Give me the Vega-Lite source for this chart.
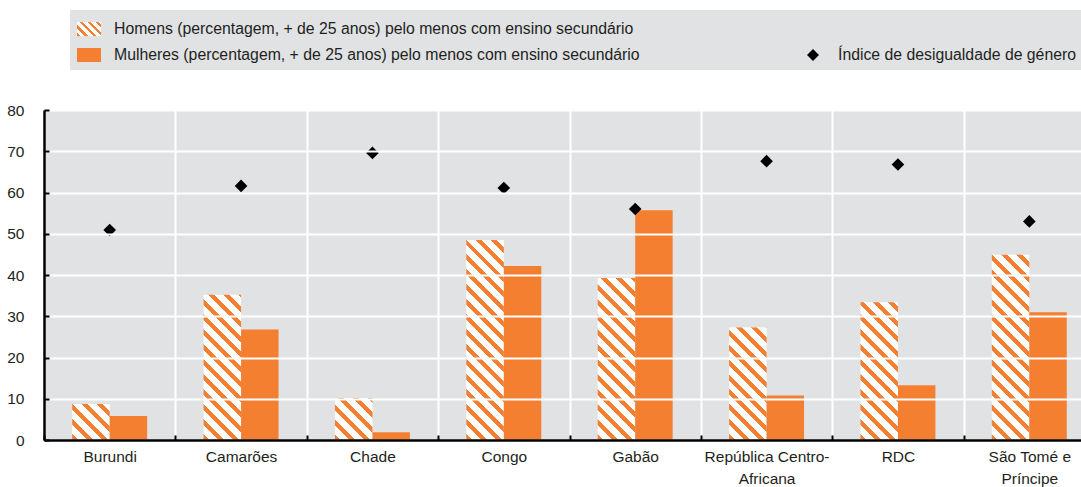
{
  "$schema": "https://vega.github.io/schema/vega-lite/v6.json",
  "width": 1037,
  "height": 330,
  "autosize": {"type": "none"},
  "padding": {"left": 44, "top": 110, "right": 0, "bottom": 47},
  "background": "#ffffff",
  "params": [
    {"name": "hatch", "value": [
      {"offset": 0, "color": "#f47f30"}, {"offset": 0.0235, "color": "#f47f30"}, {"offset": 0.0235, "color": "#ffffff"}, {"offset": 0.0588, "color": "#ffffff"},
      {"offset": 0.0588, "color": "#f47f30"}, {"offset": 0.0824, "color": "#f47f30"}, {"offset": 0.0824, "color": "#ffffff"}, {"offset": 0.1176, "color": "#ffffff"},
      {"offset": 0.1176, "color": "#f47f30"}, {"offset": 0.1412, "color": "#f47f30"}, {"offset": 0.1412, "color": "#ffffff"}, {"offset": 0.1765, "color": "#ffffff"},
      {"offset": 0.1765, "color": "#f47f30"}, {"offset": 0.2, "color": "#f47f30"}, {"offset": 0.2, "color": "#ffffff"}, {"offset": 0.2353, "color": "#ffffff"},
      {"offset": 0.2353, "color": "#f47f30"}, {"offset": 0.2588, "color": "#f47f30"}, {"offset": 0.2588, "color": "#ffffff"}, {"offset": 0.2941, "color": "#ffffff"},
      {"offset": 0.2941, "color": "#f47f30"}, {"offset": 0.3176, "color": "#f47f30"}, {"offset": 0.3176, "color": "#ffffff"}, {"offset": 0.3529, "color": "#ffffff"},
      {"offset": 0.3529, "color": "#f47f30"}, {"offset": 0.3765, "color": "#f47f30"}, {"offset": 0.3765, "color": "#ffffff"}, {"offset": 0.4118, "color": "#ffffff"},
      {"offset": 0.4118, "color": "#f47f30"}, {"offset": 0.4353, "color": "#f47f30"}, {"offset": 0.4353, "color": "#ffffff"}, {"offset": 0.4706, "color": "#ffffff"},
      {"offset": 0.4706, "color": "#f47f30"}, {"offset": 0.4941, "color": "#f47f30"}, {"offset": 0.4941, "color": "#ffffff"}, {"offset": 0.5294, "color": "#ffffff"},
      {"offset": 0.5294, "color": "#f47f30"}, {"offset": 0.5529, "color": "#f47f30"}, {"offset": 0.5529, "color": "#ffffff"}, {"offset": 0.5882, "color": "#ffffff"},
      {"offset": 0.5882, "color": "#f47f30"}, {"offset": 0.6118, "color": "#f47f30"}, {"offset": 0.6118, "color": "#ffffff"}, {"offset": 0.6471, "color": "#ffffff"},
      {"offset": 0.6471, "color": "#f47f30"}, {"offset": 0.6706, "color": "#f47f30"}, {"offset": 0.6706, "color": "#ffffff"}, {"offset": 0.7059, "color": "#ffffff"},
      {"offset": 0.7059, "color": "#f47f30"}, {"offset": 0.7294, "color": "#f47f30"}, {"offset": 0.7294, "color": "#ffffff"}, {"offset": 0.7647, "color": "#ffffff"},
      {"offset": 0.7647, "color": "#f47f30"}, {"offset": 0.7882, "color": "#f47f30"}, {"offset": 0.7882, "color": "#ffffff"}, {"offset": 0.8235, "color": "#ffffff"},
      {"offset": 0.8235, "color": "#f47f30"}, {"offset": 0.8471, "color": "#f47f30"}, {"offset": 0.8471, "color": "#ffffff"}, {"offset": 0.8824, "color": "#ffffff"},
      {"offset": 0.8824, "color": "#f47f30"}, {"offset": 0.9059, "color": "#f47f30"}, {"offset": 0.9059, "color": "#ffffff"}, {"offset": 0.9412, "color": "#ffffff"},
      {"offset": 0.9412, "color": "#f47f30"}, {"offset": 0.9647, "color": "#f47f30"}, {"offset": 0.9647, "color": "#ffffff"}, {"offset": 1, "color": "#ffffff"}
    ]}
  ],
  "data": {"values": [
    {"pais": "Burundi", "serie": "Homens (percentagem, + de 25 anos) pelo menos com ensino secundário", "valor": 8.7},
    {"pais": "Burundi", "serie": "Mulheres (percentagem, + de 25 anos) pelo menos com ensino secundário", "valor": 5.8},
    {"pais": "Burundi", "serie": "Índice de desigualdade de género", "valor": 50.9},
    {"pais": "Camarões", "serie": "Homens (percentagem, + de 25 anos) pelo menos com ensino secundário", "valor": 35.2},
    {"pais": "Camarões", "serie": "Mulheres (percentagem, + de 25 anos) pelo menos com ensino secundário", "valor": 26.8},
    {"pais": "Camarões", "serie": "Índice de desigualdade de género", "valor": 61.6},
    {"pais": "Chade", "serie": "Homens (percentagem, + de 25 anos) pelo menos com ensino secundário", "valor": 10.1},
    {"pais": "Chade", "serie": "Mulheres (percentagem, + de 25 anos) pelo menos com ensino secundário", "valor": 1.9},
    {"pais": "Chade", "serie": "Índice de desigualdade de género", "valor": 69.6},
    {"pais": "Congo", "serie": "Homens (percentagem, + de 25 anos) pelo menos com ensino secundário", "valor": 48.5},
    {"pais": "Congo", "serie": "Mulheres (percentagem, + de 25 anos) pelo menos com ensino secundário", "valor": 42.2},
    {"pais": "Congo", "serie": "Índice de desigualdade de género", "valor": 61.1},
    {"pais": "Gabão", "serie": "Homens (percentagem, + de 25 anos) pelo menos com ensino secundário", "valor": 39.3},
    {"pais": "Gabão", "serie": "Mulheres (percentagem, + de 25 anos) pelo menos com ensino secundário", "valor": 55.7},
    {"pais": "Gabão", "serie": "Índice de desigualdade de género", "valor": 56.0},
    {"pais": "República Centro-Africana", "serie": "Homens (percentagem, + de 25 anos) pelo menos com ensino secundário", "valor": 27.3},
    {"pais": "República Centro-Africana", "serie": "Mulheres (percentagem, + de 25 anos) pelo menos com ensino secundário", "valor": 10.8},
    {"pais": "República Centro-Africana", "serie": "Índice de desigualdade de género", "valor": 67.6},
    {"pais": "RDC", "serie": "Homens (percentagem, + de 25 anos) pelo menos com ensino secundário", "valor": 33.4},
    {"pais": "RDC", "serie": "Mulheres (percentagem, + de 25 anos) pelo menos com ensino secundário", "valor": 13.3},
    {"pais": "RDC", "serie": "Índice de desigualdade de género", "valor": 66.8},
    {"pais": "São Tomé e Príncipe", "serie": "Homens (percentagem, + de 25 anos) pelo menos com ensino secundário", "valor": 44.9},
    {"pais": "São Tomé e Príncipe", "serie": "Mulheres (percentagem, + de 25 anos) pelo menos com ensino secundário", "valor": 31.0},
    {"pais": "São Tomé e Príncipe", "serie": "Índice de desigualdade de género", "valor": 53.0}
  ]},
  "encoding": {
    "x": {
      "field": "pais", "type": "nominal", "sort": null,
      "scale": {"type": "band", "paddingInner": 0, "paddingOuter": 0, "range": [0, 1051]},
      "axis": {
        "title": null, "labelAngle": 0, "tickBand": "extent",
        "domainColor": "#000000", "domainWidth": 2.5,
        "tickColor": "#000000", "tickWidth": 2, "tickSize": -5,
        "grid": true, "gridColor": "#ffffff", "gridWidth": 2,
        "labelFont": "Liberation Sans, Arial, sans-serif",
        "labelFontSize": 15.5, "labelColor": "#231f20", "labelPadding": 14, "labelLineHeight": 22,
        "labelLimit": 300,
        "labelExpr": "datum.value == 'República Centro-Africana' ? ['República Centro-', 'Africana'] : datum.value == 'São Tomé e Príncipe' ? ['São Tomé e', 'Príncipe'] : datum.label",
        "zindex": 1
      }
    },
    "y": {
      "field": "valor", "type": "quantitative",
      "scale": {"domain": [0, 80], "nice": false},
      "axis": {
        "title": null, "values": [0, 10, 20, 30, 40, 50, 60, 70, 80],
        "domainColor": "#000000", "domainWidth": 2.5,
        "tickColor": "#000000", "tickWidth": 2, "tickSize": -5,
        "grid": true, "gridColor": "#ffffff", "gridWidth": 2,
        "labelFont": "Liberation Sans, Arial, sans-serif",
        "labelFontSize": 15.5, "labelColor": "#231f20", "labelPadding": 25,
        "zindex": 1
      }
    }
  },
  "layer": [
    {
      "transform": [{"filter": "indexof(datum.serie, 'Homens') == 0"}],
      "mark": {
        "type": "bar",
        "fill": {"expr": "{gradient: 'linear', x1: 0, y1: 1, x2: 254.56 * bandwidth('xOffset') / (pow(bandwidth('xOffset'), 2) + pow(scale('y', 0) - scale('y', datum.valor), 2)), y2: 1 - 254.56 * (scale('y', 0) - scale('y', datum.valor)) / (pow(bandwidth('xOffset'), 2) + pow(scale('y', 0) - scale('y', datum.valor), 2)), stops: hatch}"}
      },
      "encoding": {
        "xOffset": {"field": "serie", "type": "nominal", "scale": {"domain": ["Homens (percentagem, + de 25 anos) pelo menos com ensino secundário", "Mulheres (percentagem, + de 25 anos) pelo menos com ensino secundário"], "paddingInner": 0, "paddingOuter": 0.753}}
      }
    },
    {
      "transform": [{"filter": "indexof(datum.serie, 'Mulheres') == 0"}],
      "mark": {"type": "bar"},
      "encoding": {
        "xOffset": {"field": "serie", "type": "nominal", "scale": {"domain": ["Homens (percentagem, + de 25 anos) pelo menos com ensino secundário", "Mulheres (percentagem, + de 25 anos) pelo menos com ensino secundário"], "paddingInner": 0, "paddingOuter": 0.753}},
        "color": {
          "field": "serie", "type": "nominal",
          "scale": {
            "domain": ["Homens (percentagem, + de 25 anos) pelo menos com ensino secundário", "Mulheres (percentagem, + de 25 anos) pelo menos com ensino secundário", " ", "Índice de desigualdade de género"],
            "range": [{"expr": "{gradient: 'linear', x1: 0, y1: 1, x2: 4.27, y2: -1.49, stops: hatch}"}, "#f47f30", "#e1e2e4", "#000000"]
          },
          "legend": {
            "orient": "none", "legendX": 26, "legendY": -100,
            "title": null,
            "columns": 2, "columnPadding": 161, "rowPadding": 6, "padding": 7,
            "fillColor": "#e1e2e4",
            "labelFont": "Liberation Sans, Arial, sans-serif",
            "labelFontSize": 15.8, "labelColor": "#231f20", "labelOffset": 13, "labelLimit": 800,
            "symbolSize": 576, "symbolStrokeWidth": 0, "symbolOpacity": 1
          }
        }
      }
    },
    {
      "transform": [{"filter": "indexof(datum.serie, 'Índice') == 0"}],
      "mark": {"type": "point", "filled": true, "size": 640, "opacity": 1, "strokeWidth": 0},
      "encoding": {
        "color": {"field": "serie", "type": "nominal"},
        "shape": {
          "field": "serie", "type": "nominal",
          "scale": {
            "domain": ["Homens (percentagem, + de 25 anos) pelo menos com ensino secundário", "Mulheres (percentagem, + de 25 anos) pelo menos com ensino secundário", " ", "Índice de desigualdade de género"],
            "range": ["M-1,-0.583H1V0.583H-1Z", "M-1,-0.583H1V0.583H-1Z", "M-1,-0.583H1V0.583H-1Z", "M-0.5,0L0,-0.5L0.5,0L0,0.5Z"]
          }
        }
      }
    }
  ],
  "config": {
    "view": {"fill": "#e1e2e4", "stroke": null},
    "font": "Liberation Sans, Arial, sans-serif"
  }
}
